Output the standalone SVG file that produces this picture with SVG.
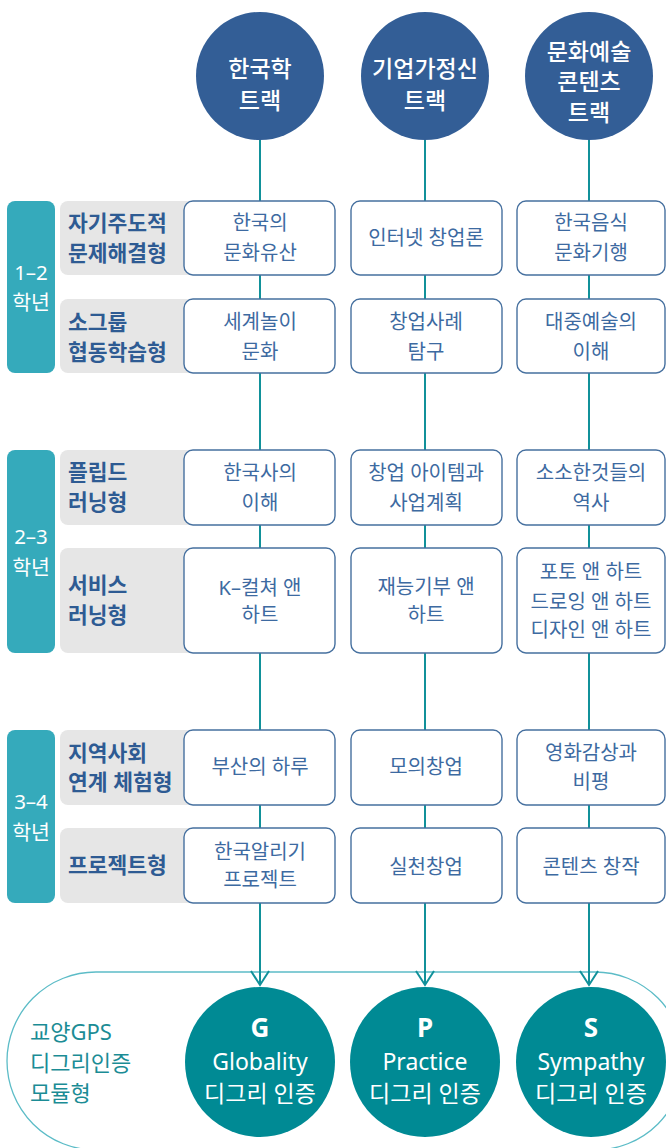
<svg xmlns="http://www.w3.org/2000/svg" width="666" height="1148" viewBox="0 0 666 1148">
<style>
text{font-family:'Noto Sans','Noto Sans CJK KR',sans-serif;text-anchor:middle}
.track{fill:#335e96}
.tt{fill:#fff;font-size:23px;font-weight:500}
.grade{fill:#35aabb}
.gt{fill:#fff;font-size:20.5px}
.cat{fill:#e6e6e6}
.ct{fill:#2e5b93;font-size:21.5px;font-weight:700;text-anchor:start}
.box{fill:#fff;stroke:#46709f;stroke-width:1.4}
.bt{fill:#3d6aa1;font-size:20px}
.conn{fill:none;stroke:#11919a;stroke-width:2}
.cert{fill:#008a94}
.ctt{fill:#fff;font-size:23px}
.cth{fill:#fff;font-size:26px;font-weight:700}
.lt{fill:#1b8c95;font-size:22px;text-anchor:start}
</style>
<defs>
<marker id="arr" markerUnits="userSpaceOnUse" markerWidth="20" markerHeight="24" viewBox="-16 -12 20 24" refX="0" refY="0" orient="auto" overflow="visible">
<path d="M-14,-9 L0,0 L-14,9" fill="none" stroke="#11919a" stroke-width="2"/>
</marker>
</defs>

<g id="module-frame">
<rect x="7" y="972" width="677" height="178" rx="89" fill="none" stroke="#5cbcc7" stroke-width="1.3"/>
<text class="lt" x="30" y="1040">교양GPS</text>
<text class="lt" x="30" y="1071">디그리인증</text>
<text class="lt" x="30" y="1101">모듈형</text>
</g>

<g id="connectors">
<line class="conn" x1="260" y1="139" x2="260" y2="985" marker-end="url(#arr)"/>
<line class="conn" x1="425" y1="139" x2="425" y2="985" marker-end="url(#arr)"/>
<line class="conn" x1="589" y1="139" x2="589" y2="985" marker-end="url(#arr)"/>
</g>

<g id="track-korean"><circle class="track" cx="260" cy="76" r="64"/>
<text class="tt" x="260" y="77">한국학</text><text class="tt" x="260" y="109">트랙</text></g>
<g id="track-startup"><circle class="track" cx="425" cy="76" r="64"/>
<text class="tt" x="425" y="77">기업가정신</text><text class="tt" x="425" y="109">트랙</text></g>
<g id="track-culture"><circle class="track" cx="589" cy="76" r="64"/>
<text class="tt" x="589" y="60">문화예술</text><text class="tt" x="589" y="90">콘텐츠</text><text class="tt" x="589" y="121">트랙</text></g>

<g id="grade-12"><rect class="grade" x="7" y="201" width="48" height="172" rx="8"/>
<text class="gt" x="31" y="280">1–2</text><text class="gt" x="31" y="310">학년</text></g>
<g id="grade-23"><rect class="grade" x="7" y="450" width="48" height="203" rx="8"/>
<text class="gt" x="31" y="544">2–3</text><text class="gt" x="31" y="575">학년</text></g>
<g id="grade-34"><rect class="grade" x="7" y="730" width="48" height="173" rx="8"/>
<text class="gt" x="31" y="809">3–4</text><text class="gt" x="31" y="840">학년</text></g>

<g id="cat-1"><rect class="cat" x="60" y="201" width="140" height="74" rx="8"/>
<text class="ct" x="68" y="231">자기주도적</text><text class="ct" x="68" y="261">문제해결형</text></g>
<g id="cat-2"><rect class="cat" x="60" y="299" width="140" height="74" rx="8"/>
<text class="ct" x="68" y="330">소그룹</text><text class="ct" x="68" y="360">협동학습형</text></g>
<g id="cat-3"><rect class="cat" x="60" y="450" width="140" height="75" rx="8"/>
<text class="ct" x="68" y="480">플립드</text><text class="ct" x="68" y="510">러닝형</text></g>
<g id="cat-4"><rect class="cat" x="60" y="548" width="140" height="105" rx="8"/>
<text class="ct" x="68" y="593">서비스</text><text class="ct" x="68" y="623">러닝형</text></g>
<g id="cat-5"><rect class="cat" x="60" y="730" width="140" height="75" rx="8"/>
<text class="ct" x="68" y="761">지역사회</text><text class="ct" x="68" y="790">연계 체험형</text></g>
<g id="cat-6"><rect class="cat" x="60" y="828" width="140" height="75" rx="8"/>
<text class="ct" x="68" y="873">프로젝트형</text></g>

<g id="c1-r1"><rect class="box" x="184" y="201" width="151" height="74" rx="9"/>
<text class="bt" x="260" y="230">한국의</text><text class="bt" x="260" y="260">문화유산</text></g>
<g id="c2-r1"><rect class="box" x="351" y="201" width="151" height="74" rx="9"/>
<text class="bt" x="426" y="245">인터넷 창업론</text></g>
<g id="c3-r1"><rect class="box" x="517" y="201" width="148" height="74" rx="9"/>
<text class="bt" x="591" y="230">한국음식</text><text class="bt" x="591" y="260">문화기행</text></g>

<g id="c1-r2"><rect class="box" x="184" y="299" width="151" height="74" rx="9"/>
<text class="bt" x="260" y="329">세계놀이</text><text class="bt" x="260" y="359">문화</text></g>
<g id="c2-r2"><rect class="box" x="351" y="299" width="151" height="74" rx="9"/>
<text class="bt" x="426" y="329">창업사례</text><text class="bt" x="426" y="359">탐구</text></g>
<g id="c3-r2"><rect class="box" x="517" y="299" width="148" height="74" rx="9"/>
<text class="bt" x="591" y="329">대중예술의</text><text class="bt" x="591" y="359">이해</text></g>

<g id="c1-r3"><rect class="box" x="184" y="450" width="151" height="75" rx="9"/>
<text class="bt" x="260" y="480">한국사의</text><text class="bt" x="260" y="510">이해</text></g>
<g id="c2-r3"><rect class="box" x="351" y="450" width="151" height="75" rx="9"/>
<text class="bt" x="426" y="480">창업 아이템과</text><text class="bt" x="426" y="510">사업계획</text></g>
<g id="c3-r3"><rect class="box" x="517" y="450" width="148" height="75" rx="9"/>
<text class="bt" x="591" y="480">소소한것들의</text><text class="bt" x="591" y="510">역사</text></g>

<g id="c1-r4"><rect class="box" x="184" y="548" width="151" height="105" rx="9"/>
<text class="bt" x="260" y="595">K–컬쳐 앤</text><text class="bt" x="260" y="622">하트</text></g>
<g id="c2-r4"><rect class="box" x="351" y="548" width="151" height="105" rx="9"/>
<text class="bt" x="426" y="594">재능기부 앤</text><text class="bt" x="426" y="622">하트</text></g>
<g id="c3-r4"><rect class="box" x="517" y="548" width="148" height="105" rx="9"/>
<text class="bt" x="591" y="579">포토 앤 하트</text><text class="bt" x="591" y="609">드로잉 앤 하트</text><text class="bt" x="591" y="637">디자인 앤 하트</text></g>

<g id="c1-r5"><rect class="box" x="184" y="730" width="151" height="75" rx="9"/>
<text class="bt" x="260" y="774">부산의 하루</text></g>
<g id="c2-r5"><rect class="box" x="351" y="730" width="151" height="75" rx="9"/>
<text class="bt" x="426" y="774">모의창업</text></g>
<g id="c3-r5"><rect class="box" x="517" y="730" width="148" height="75" rx="9"/>
<text class="bt" x="591" y="760">영화감상과</text><text class="bt" x="591" y="789">비평</text></g>

<g id="c1-r6"><rect class="box" x="184" y="828" width="151" height="75" rx="9"/>
<text class="bt" x="260" y="859">한국알리기</text><text class="bt" x="260" y="887">프로젝트</text></g>
<g id="c2-r6"><rect class="box" x="351" y="828" width="151" height="75" rx="9"/>
<text class="bt" x="426" y="874">실천창업</text></g>
<g id="c3-r6"><rect class="box" x="517" y="828" width="148" height="75" rx="9"/>
<text class="bt" x="591" y="874">콘텐츠 창작</text></g>

<g id="cert-g"><circle class="cert" cx="260" cy="1062" r="75"/>
<text class="cth" x="260" y="1037">G</text><text class="ctt" x="260" y="1070">Globality</text><text class="ctt" x="260" y="1102">디그리 인증</text></g>
<g id="cert-p"><circle class="cert" cx="425" cy="1062" r="75"/>
<text class="cth" x="425" y="1037">P</text><text class="ctt" x="425" y="1070">Practice</text><text class="ctt" x="425" y="1102">디그리 인증</text></g>
<g id="cert-s"><circle class="cert" cx="591" cy="1062" r="75"/>
<text class="cth" x="591" y="1037">S</text><text class="ctt" x="591" y="1070">Sympathy</text><text class="ctt" x="591" y="1102">디그리 인증</text></g>
</svg>
